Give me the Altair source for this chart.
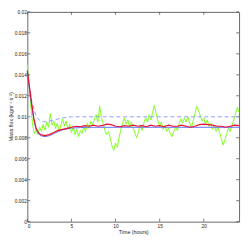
import altair as alt
import pandas as pd

# Green (noisy measured) series, every 0.2 h, in 1e-3 units
green_t = [round(i * 0.2, 1) for i in range(121)]
green_v = [15.0, 13.0, 11.0, 9.2, 8.4, 8.8, 8.3, 9.0, 8.6, 9.3, 8.7, 9.5, 9.0, 10.3, 9.2, 9.6,
           8.9, 9.4, 8.6, 9.2, 9.8, 9.1, 9.6, 8.8, 9.3, 8.5, 9.0, 8.3, 8.8, 8.1, 8.7, 8.4,
           9.1, 8.6, 9.4, 8.9, 9.6, 9.2, 9.8, 10.2, 9.5, 11.0, 9.9, 9.3, 8.7, 8.3, 8.6, 8.0,
           7.2, 6.8, 7.5, 7.1, 8.0, 8.8, 9.4, 9.9, 9.3, 9.7, 9.0, 9.5, 8.9, 8.4, 8.0, 8.6,
           9.2, 8.7, 9.4, 9.9, 9.5, 10.2, 9.7, 10.4, 11.1, 10.3, 9.6, 9.1, 9.5, 8.8, 9.2, 8.6,
           8.9, 8.4, 8.1, 8.6, 9.0, 8.7, 9.3, 9.8, 9.4, 9.9, 9.5, 10.0, 9.4, 9.0, 9.6, 10.3,
           11.0, 10.6, 10.1, 9.6, 9.9, 9.3, 9.7, 9.1, 9.4, 8.8, 9.2, 8.6, 9.0, 8.5, 7.9, 7.3,
           7.8, 8.4, 8.9, 8.6, 9.2, 9.7, 10.3, 10.9, 10.4]

# Red series
red_t = [0, 0.25, 0.5, 0.75, 1.0, 1.25, 1.5, 2.0, 2.5, 3.0, 3.5, 4.0, 4.5, 5.0, 5.5, 6.0, 6.5,
         7.0, 7.5, 8.0, 8.5, 9.0, 9.5, 10.0, 10.5, 11.0, 11.5, 12.0, 12.5, 13.0, 13.5, 14.0,
         14.5, 15.0, 15.5, 16.0, 16.5, 17.0, 17.5, 18.0, 18.5, 19.0, 19.5, 20.0, 20.5, 21.0,
         21.5, 22.0, 22.5, 23.0, 23.5, 24.0]
red_v = [14.4, 12.8, 11.2, 9.8, 8.9, 8.5, 8.3, 8.2, 8.3, 8.5, 8.7, 8.8, 8.9, 9.0, 9.1, 9.05,
         9.15, 9.1, 9.2, 9.1, 9.15, 9.3, 9.25, 9.1, 9.05, 9.15, 9.1, 9.2, 9.1, 9.15, 9.05, 9.2,
         9.1, 9.15, 9.05, 9.2, 9.1, 9.1, 9.2, 9.1, 9.0, 9.1, 9.25, 9.3, 9.25, 9.2, 9.1, 9.1,
         9.0, 9.1, 9.2, 9.15]

# Blue solid series
blue_t = [0, 0.25, 0.5, 0.75, 1.0, 1.25, 1.5, 2.0, 2.5, 3.0, 3.5, 4.0, 4.5, 5.0, 6.0, 7.0, 24.0]
blue_v = [14.3, 12.6, 11.0, 9.6, 8.8, 8.4, 8.2, 8.1, 8.2, 8.4, 8.6, 8.75, 8.85, 8.92, 8.97, 9.0, 9.0]

# Blue dashed series
dash_t = [0, 0.5, 1.0, 1.5, 2.0, 3.0, 4.0, 5.0, 24.0]
dash_v = [14.3, 11.5, 10.0, 9.6, 9.5, 9.7, 9.9, 10.0, 10.0]

x_ticks = [0, 5, 10, 15, 20]
y_ticks = [0, 0.002, 0.004, 0.006, 0.008, 0.01, 0.012, 0.014, 0.016, 0.018, 0.02]

def frame(t, v, name):
    return pd.DataFrame({"t": t, "v": [x / 1000 for x in v], "s": name})

g = frame(green_t, green_v, "green")
r = frame(red_t, red_v, "red")
b = frame(blue_t, blue_v, "blue")
d = frame(dash_t, dash_v, "dash")

xs = alt.Scale(domain=[0, 24], nice=False, zero=False)
ys = alt.Scale(domain=[0, 0.02], nice=False)

x_axis = alt.Axis(title="Time (hours)", values=x_ticks, ticks=False, domain=False, grid=False,
                  labelPadding=2, titlePadding=1, labelOverlap=False)
y_axis = alt.Axis(title="Mass flux (kgm\u207b\u00b9 s\u207b\u00b2)", values=y_ticks, format="~g",
                  ticks=False, domain=False, grid=False, labelPadding=1, labelOverlap=False,
                  titleAngle=270, titleX=-19, titleY=108, titleAlign="center",
                  titleBaseline="top")
X = alt.X("t:Q", scale=xs, axis=x_axis)
Y = alt.Y("v:Q", scale=ys, axis=y_axis)

def XD(val):
    return alt.XDatum(val, scale=xs, axis=x_axis, type="quantitative")

def YD(val):
    return alt.YDatum(val, scale=ys, axis=y_axis, type="quantitative")

lg = alt.Chart(g).mark_line(color="#7dff1a", strokeWidth=1).encode(x=X, y=Y)
ld = alt.Chart(d).mark_line(color="#8c9cff", strokeWidth=1, strokeDash=[4, 3]).encode(x=X, y=Y)
lb = alt.Chart(b).mark_line(color="#5c6cff", strokeWidth=1).encode(x=X, y=Y)
lr = alt.Chart(r).mark_line(color="#e8102e", strokeWidth=1.2).encode(x=X, y=Y)

xt = pd.DataFrame({"t": x_ticks})
yt = pd.DataFrame({"v": y_ticks})
tick_color = "#555555"
xt_bot = alt.Chart(xt).mark_rule(color=tick_color, strokeWidth=0.8).encode(
    x=X, y=YD(0), y2=alt.datum(0.00028))
xt_top = alt.Chart(xt).mark_rule(color=tick_color, strokeWidth=0.8).encode(
    x=X, y=YD(0.02), y2=alt.datum(0.02 - 0.00028))
yt_l = alt.Chart(yt).mark_rule(color=tick_color, strokeWidth=0.8).encode(
    y=Y, x=XD(0), x2=alt.datum(0.33))
yt_r = alt.Chart(yt).mark_rule(color=tick_color, strokeWidth=0.8).encode(
    y=Y, x=XD(24), x2=alt.datum(24 - 0.33))

chart = alt.layer(lg, ld, lb, lr, xt_bot, xt_top, yt_l, yt_r).properties(
    width=219, height=217,
    autosize=alt.AutoSizeParams(type="none"),
    padding={"left": 20, "top": 0, "right": 2, "bottom": 17},
).configure_view(stroke="#666666", strokeWidth=1).configure_axis(
    labelFont="Liberation Sans", titleFont="Liberation Sans", labelFontSize=5,
    titleFontSize=5.5, titleFontWeight="normal", labelColor="#222222", titleColor="#222222",
    labelOverlap=False
)

chart.save("out.html", embed_options={"renderer": "svg", "actions": False})
